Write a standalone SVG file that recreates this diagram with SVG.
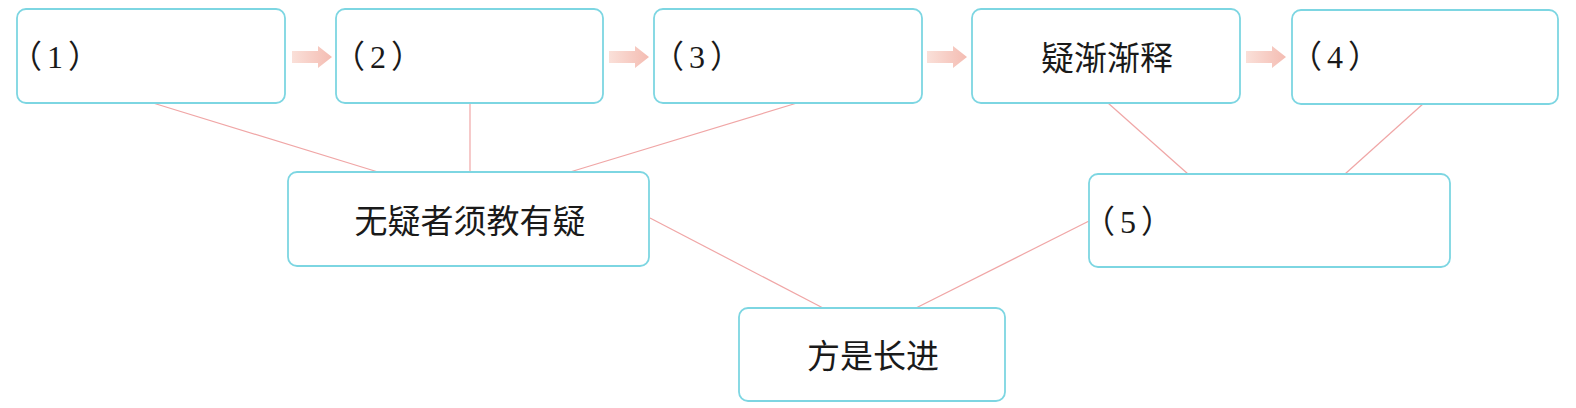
<svg xmlns="http://www.w3.org/2000/svg" width="1576" height="408" viewBox="0 0 1576 408">
  <style>
    .box { fill: #ffffff; stroke: #7dd6e2; stroke-width: 1.8; }
    .conn { stroke: #f0a6a6; stroke-width: 1.2; fill: none; }
    .lbl { font-family: "Liberation Serif", "Noto Sans CJK SC", sans-serif; font-size: 32px; fill: #1a1a1a; }
    .zh { font-family: "Noto Sans CJK SC", sans-serif; font-size: 33px; fill: #1a1a1a; text-anchor: middle; }
  </style>
  <defs>
    <linearGradient id="ag" x1="0" y1="0" x2="1" y2="0">
      <stop offset="0" stop-color="#fae0d9"/>
      <stop offset="1" stop-color="#f4bcb2"/>
    </linearGradient>
    <path id="arrow" d="M0,-6 L26,-6 L26,-11 L40,0 L26,11 L26,6 L0,6 Z" fill="url(#ag)"/>
  </defs>

  <g id="connectors">
    <line class="conn" x1="153" y1="103" x2="378" y2="172"/>
    <line class="conn" x1="470" y1="103" x2="470" y2="172"/>
    <line class="conn" x1="797" y1="103" x2="570" y2="172"/>
    <line class="conn" x1="1108" y1="103" x2="1188" y2="174"/>
    <line class="conn" x1="1424" y1="103" x2="1345" y2="174"/>
    <line class="conn" x1="650" y1="218" x2="823" y2="308"/>
    <line class="conn" x1="1089" y1="221" x2="916" y2="308"/>
    <use href="#arrow" x="292" y="57"/>
    <use href="#arrow" x="609" y="57"/>
    <use href="#arrow" x="927" y="57"/>
    <use href="#arrow" x="1246" y="57"/>
  </g>

  <g id="n1">
    <rect class="box" x="17" y="9" width="268" height="94" rx="9"/>
    <text class="lbl" x="10" y="68">（<tspan dx="5">1</tspan><tspan dx="5">）</tspan></text>
  </g>
  <g id="n2">
    <rect class="box" x="336" y="9" width="267" height="94" rx="9"/>
    <text class="lbl" x="333" y="68">（<tspan dx="5">2</tspan><tspan dx="5">）</tspan></text>
  </g>
  <g id="n3">
    <rect class="box" x="654" y="9" width="268" height="94" rx="9"/>
    <text class="lbl" x="652" y="68">（<tspan dx="5">3</tspan><tspan dx="5">）</tspan></text>
  </g>
  <g id="n4">
    <rect class="box" x="972" y="9" width="268" height="94" rx="9"/>
    <text class="zh" x="1107" y="70">疑渐渐释</text>
  </g>
  <g id="n5">
    <rect class="box" x="1292" y="10" width="266" height="94" rx="9"/>
    <text class="lbl" x="1290" y="68">（<tspan dx="5">4</tspan><tspan dx="5">）</tspan></text>
  </g>
  <g id="n6">
    <rect class="box" x="288" y="172" width="361" height="94" rx="9"/>
    <text class="zh" x="470" y="233">无疑者须教有疑</text>
  </g>
  <g id="n7">
    <rect class="box" x="1089" y="174" width="361" height="93" rx="9"/>
    <text class="lbl" x="1083" y="233">（<tspan dx="5">5</tspan><tspan dx="5">）</tspan></text>
  </g>
  <g id="n8">
    <rect class="box" x="739" y="308" width="266" height="93" rx="9"/>
    <text class="zh" x="873" y="368">方是长进</text>
  </g>
</svg>
